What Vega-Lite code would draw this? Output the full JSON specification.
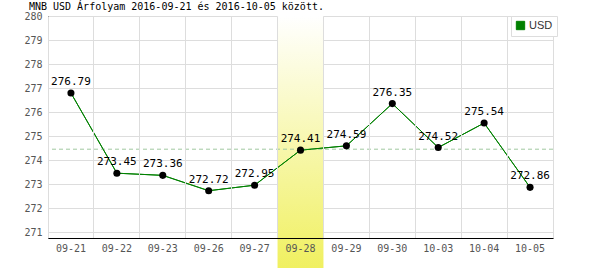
{
  "$schema": "https://vega.github.io/schema/vega-lite/v6.json",
  "autosize": "none",
  "width": 505,
  "height": 222,
  "padding": {"left": 48, "top": 16, "right": 47, "bottom": 32},
  "title": {"text": "MNB USD Árfolyam 2016-09-21 és 2016-10-05 között.", "anchor": "start", "font": "DejaVu Sans Mono", "fontSize": 10, "fontWeight": "normal", "color": "#000", "offset": -1, "dx": 5},
  "config": {
    "font": "DejaVu Sans Mono",
    "view": {"stroke": "#dddddd"},
    "axis": {"labelFont": "DejaVu Sans Mono", "labelFontSize": 10, "labelColor": "#555555", "gridColor": "#dddddd", "domainColor": "#000000", "ticks": false, "title": null}
  },
  "datasets": {
    "rates": [
      {"date": "09-21", "rate": 276.79, "series": "USD"},
      {"date": "09-22", "rate": 273.45, "series": "USD"},
      {"date": "09-23", "rate": 273.36, "series": "USD"},
      {"date": "09-26", "rate": 272.72, "series": "USD"},
      {"date": "09-27", "rate": 272.95, "series": "USD"},
      {"date": "09-28", "rate": 274.41, "series": "USD"},
      {"date": "09-29", "rate": 274.59, "series": "USD"},
      {"date": "09-30", "rate": 276.35, "series": "USD"},
      {"date": "10-03", "rate": 274.52, "series": "USD"},
      {"date": "10-04", "rate": 275.54, "series": "USD"},
      {"date": "10-05", "rate": 272.86, "series": "USD"}
    ]
  },
  "layer": [
    {
      "data": {"values": [{"date": "09-28", "top": 280, "bottom": 269.5}]},
      "mark": {"type": "rect", "clip": false, "fill": {"gradient": "linear", "x1": 0, "y1": 0, "x2": 0, "y2": 1, "stops": [{"offset": 0, "color": "#ffffff"}, {"offset": 1, "color": "#f0f060"}]}},
      "encoding": {
        "x": {"field": "date", "type": "ordinal",
              "scale": {"paddingInner": 0, "paddingOuter": 0},
              "axis": {"grid": true, "bandPosition": 0, "labelAngle": 0, "labelPadding": 5, "labelAlign": "center"}},
        "y": {"field": "top", "type": "quantitative",
              "scale": {"domain": [270.75, 280], "nice": false, "zero": false},
              "axis": {"tickCount": 10, "format": "d", "labelPadding": 6, "grid": true, "labelOverlap": false, "labelFlush": false}},
        "y2": {"field": "bottom"}
      }
    },
    {
      "data": {"name": "rates"},
      "mark": {"type": "line", "strokeWidth": 1},
      "encoding": {
        "x": {"field": "date", "type": "ordinal", "sort": null,
              "axis": {"grid": true, "bandPosition": 0, "labelAngle": 0, "labelPadding": 5, "labelAlign": "center"}},
        "y": {"field": "rate", "type": "quantitative",
              "axis": {"tickCount": 10, "format": "d", "labelPadding": 6, "grid": true, "labelOverlap": false, "labelFlush": false}},
        "color": {"field": "series", "type": "nominal",
                  "scale": {"domain": ["USD"], "range": ["#008000"]},
                  "legend": {"title": null, "orient": "none", "legendX": 463, "legendY": 0,
                             "symbolType": "square", "symbolSize": 70, "symbolFillColor": "#008000", "symbolStrokeColor": "#555555", "symbolStrokeWidth": 1,
                             "labelFont": "Liberation Sans", "labelFontSize": 11, "labelColor": "#333333",
                             "strokeColor": "#dddddd", "fillColor": "#ffffff", "padding": 4, "labelOffset": 3, "rowPadding": 0}}
      }
    },
    {
      "data": {"values": [{"avg": 274.45}]},
      "mark": {"type": "rule", "color": "#a0c8a0", "strokeDash": [4, 3], "strokeWidth": 1},
      "encoding": {"y": {"field": "avg", "type": "quantitative"}}
    },
    {
      "data": {"name": "rates"},
      "mark": {"type": "line", "strokeWidth": 1, "color": "#008000"},
      "encoding": {
        "x": {"field": "date", "type": "ordinal", "sort": null},
        "y": {"field": "rate", "type": "quantitative"}
      }
    },
    {
      "data": {"name": "rates"},
      "mark": {"type": "point", "filled": true, "color": "#000000", "size": 50, "opacity": 1},
      "encoding": {
        "x": {"field": "date", "type": "ordinal", "sort": null},
        "y": {"field": "rate", "type": "quantitative"}
      }
    },
    {
      "data": {"name": "rates"},
      "mark": {"type": "text", "baseline": "bottom", "dy": -6, "fontSize": 11, "font": "DejaVu Sans Mono", "color": "#000000"},
      "encoding": {
        "x": {"field": "date", "type": "ordinal", "sort": null},
        "y": {"field": "rate", "type": "quantitative"},
        "text": {"field": "rate", "type": "quantitative", "format": ".2f"}
      }
    }
  ]
}
